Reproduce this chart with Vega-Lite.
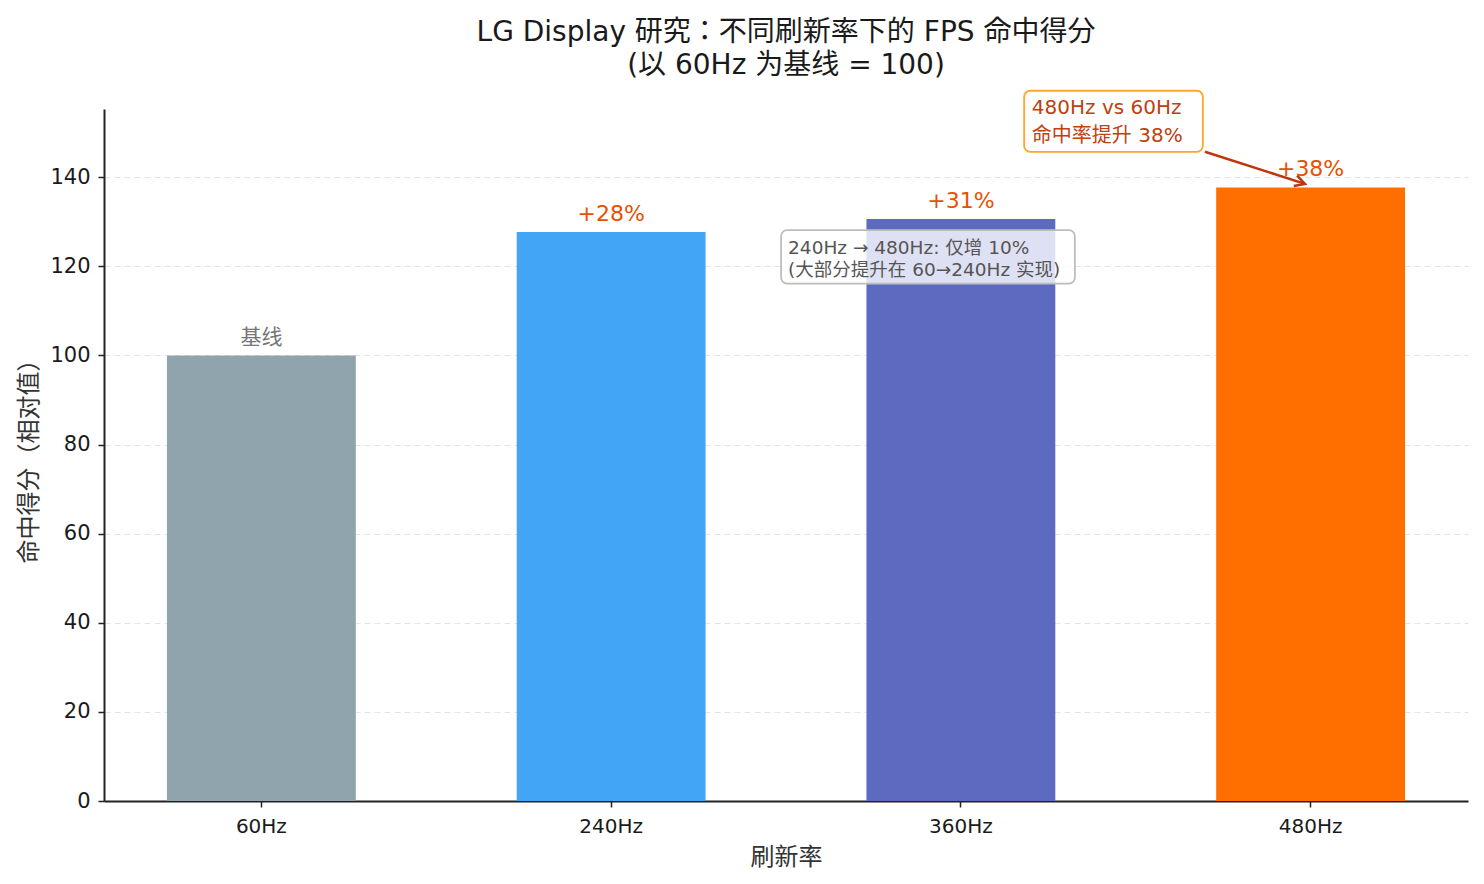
{
  "$schema": "https://vega.github.io/schema/vega-lite/v6.json",
  "width": 1364,
  "height": 692,
  "autosize": {"type": "none"},
  "padding": {"left": 104, "top": 109, "right": 16, "bottom": 83},
  "background": "white",
  "config": {
    "font": "DejaVu Sans, Noto Sans CJK SC",
    "view": {"stroke": null}
  },
  "title": {
    "text": ["LG Display 研究：不同刷新率下的 FPS 命中得分", "(以 60Hz 为基线 = 100)"],
    "anchor": "middle",
    "font": "DejaVu Sans, Noto Sans CJK JP",
    "fontSize": 28,
    "fontWeight": "normal",
    "color": "#1a1a1a",
    "lineHeight": 33,
    "offset": 10
  },
  "layer": [
    {
      "data": {
        "values": [
          {"rate": "60Hz", "score": 100, "label": "基线", "kind": "base"},
          {"rate": "240Hz", "score": 127.7, "label": "+28%", "kind": "gain"},
          {"rate": "360Hz", "score": 130.6, "label": "+31%", "kind": "gain"},
          {"rate": "480Hz", "score": 137.7, "label": "+38%", "kind": "gain"}
        ]
      },
      "encoding": {
        "x": {
          "field": "rate",
          "type": "nominal",
          "sort": null,
          "scale": {"paddingInner": 0.46, "paddingOuter": 0.18},
          "axis": {
            "title": "刷新率",
            "titleFontSize": 24,
            "titleFontWeight": "normal",
            "titleColor": "#333",
            "titlePadding": 9,
            "labelAngle": 0,
            "labelFontSize": 20,
            "labelColor": "#1a1a1a",
            "labelPadding": 9,
            "domainColor": "#222",
            "domainWidth": 2,
            "tickColor": "#222",
            "tickSize": 6,
            "tickWidth": 1.5
          }
        },
        "y": {
          "field": "score",
          "type": "quantitative",
          "scale": {"domain": [0, 155.3], "nice": false},
          "axis": {
            "title": "命中得分（相对值）",
            "titleFontSize": 24,
            "titleFontWeight": "normal",
            "titleColor": "#333",
            "titlePadding": 8,
            "values": [0, 20, 40, 60, 80, 100, 120, 140],
            "labelFontSize": 21,
            "labelColor": "#1a1a1a",
            "labelPadding": 8,
            "domainColor": "#222",
            "domainWidth": 2,
            "tickColor": "#222",
            "tickSize": 6,
            "tickWidth": 1.5,
            "grid": true,
            "gridColor": "#e3e3e3",
            "gridDash": [6, 4],
            "gridWidth": 1.2
          }
        }
      },
      "layer": [
        {
          "mark": {"type": "bar"},
          "encoding": {
            "color": {
              "field": "rate",
              "type": "nominal",
              "scale": {
                "domain": ["60Hz", "240Hz", "360Hz", "480Hz"],
                "range": ["#90A4AE", "#42A5F5", "#5C6BC0", "#FF6F00"]
              },
              "legend": null
            }
          }
        },
        {
          "mark": {"type": "text", "baseline": "alphabetic", "dy": -11},
          "encoding": {
            "text": {"field": "label"},
            "color": {"condition": {"test": "datum.kind == 'base'", "value": "#757575"}, "value": "#E65100"},
            "size": {"condition": {"test": "datum.kind == 'base'", "value": 21}, "value": 22}
          }
        }
      ]
    },
    {
      "layer": [
        {
          "data": {"values": [{"x": 2.178, "x2": 2.689, "y": 159.4, "y2": 145.7}]},
          "mark": {"type": "rect", "fill": "white", "stroke": "#FFA726", "strokeWidth": 1.8, "cornerRadius": 6, "clip": false},
          "encoding": {
            "x": {"field": "x", "type": "quantitative", "scale": {"domain": [-0.4532, 3.4472], "nice": false, "zero": false}, "axis": null},
            "x2": {"field": "x2"},
            "y": {"field": "y", "type": "quantitative"},
            "y2": {"field": "y2"}
          }
        },
        {
          "data": {"values": [{"x": 2.2, "y": 155.5, "note": ["480Hz vs 60Hz", "命中率提升 38%"]}]},
          "mark": {"type": "text", "align": "left", "baseline": "middle", "fontSize": 20, "lineHeight": 28, "color": "#C0400F"},
          "encoding": {
            "x": {"field": "x", "type": "quantitative", "axis": null},
            "y": {"field": "y", "type": "quantitative"},
            "text": {"field": "note"}
          }
        },
        {
          "data": {"values": [{"x": 2.695, "y": 145.7, "x2": 2.981, "y2": 138.5}]},
          "mark": {"type": "rule", "color": "#BF360C", "strokeWidth": 2.5},
          "encoding": {
            "x": {"field": "x", "type": "quantitative", "axis": null},
            "y": {"field": "y", "type": "quantitative"},
            "x2": {"field": "x2"},
            "y2": {"field": "y2"}
          }
        },
        {
          "data": {"values": [{"x": 2.981, "y": 138.5}]},
          "mark": {
            "type": "point",
            "shape": "M -1 -0.55 L 0 0 L -1 0.55",
            "filled": false,
            "size": 400,
            "angle": 17.7,
            "stroke": "#BF360C",
            "strokeWidth": 2.5,
            "opacity": 1
          },
          "encoding": {
            "x": {"field": "x", "type": "quantitative", "axis": null},
            "y": {"field": "y", "type": "quantitative"}
          }
        },
        {
          "data": {"values": [{"x": 1.483, "x2": 2.323, "y": 128.1, "y2": 116.1}]},
          "mark": {"type": "rect", "fill": "white", "fillOpacity": 0.8, "stroke": "#BDBDBD", "strokeWidth": 1.8, "cornerRadius": 6},
          "encoding": {
            "x": {"field": "x", "type": "quantitative", "axis": null},
            "x2": {"field": "x2"},
            "y": {"field": "y", "type": "quantitative"},
            "y2": {"field": "y2"}
          }
        },
        {
          "data": {"values": [{"x": 1.503, "y": 124.0, "note": ["240Hz → 480Hz: 仅增 10%", "(大部分提升在 60→240Hz 实现)"]}]},
          "mark": {"type": "text", "align": "left", "baseline": "middle", "fontSize": 18.5, "lineHeight": 22, "color": "#555555"},
          "encoding": {
            "x": {"field": "x", "type": "quantitative", "axis": null},
            "y": {"field": "y", "type": "quantitative"},
            "text": {"field": "note"}
          }
        }
      ]
    }
  ],
  "resolve": {"scale": {"x": "independent", "color": "independent"}, "axis": {"x": "independent"}}
}
